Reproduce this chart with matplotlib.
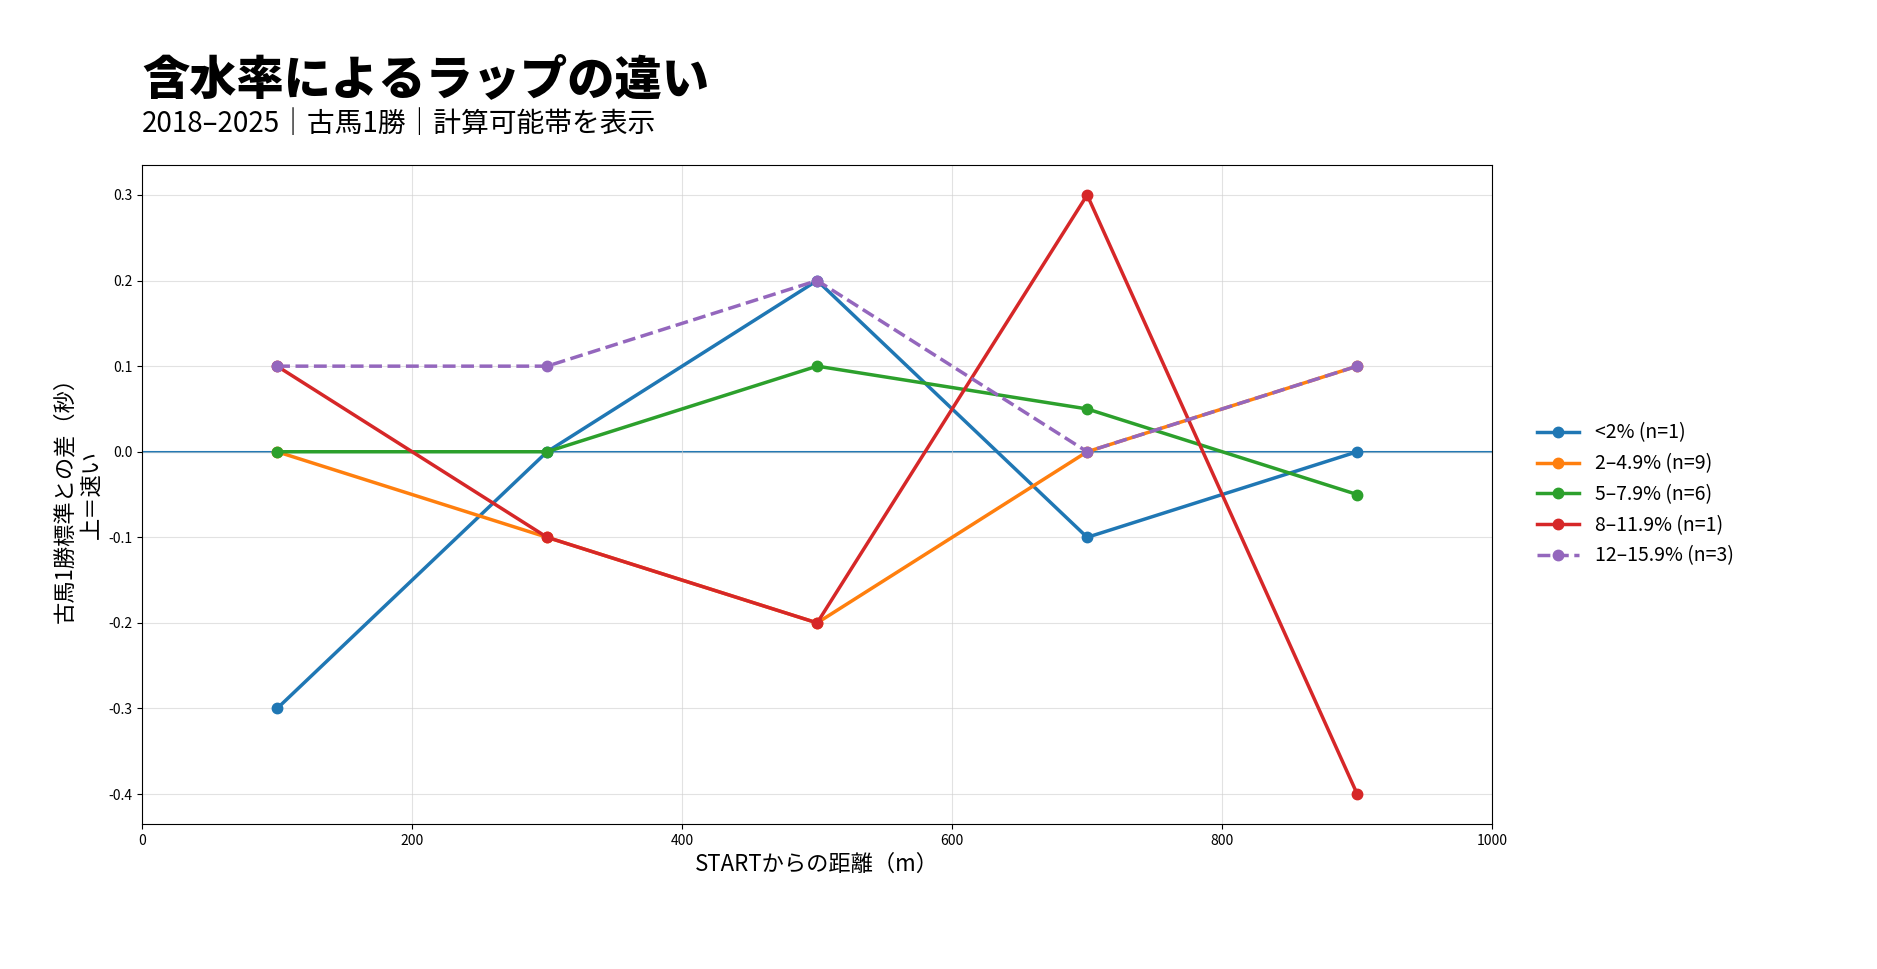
import matplotlib
matplotlib.use("Agg")
import matplotlib.pyplot as plt

plt.rcParams['font.family'] = ['Noto Sans CJK JP', 'DejaVu Sans']
plt.rcParams['axes.unicode_minus'] = False

# データ
distance = [100, 300, 500, 700, 900]
labels = ["<2% (n=1)", "2–4.9% (n=9)", "5–7.9% (n=6)", "8–11.9% (n=1)", "12–15.9% (n=3)"]
diff_lt2 = [-0.3, 0.0, 0.2, -0.1, 0.0]
diff_2_49 = [0.0, -0.1, -0.2, 0.0, 0.1]
diff_5_79 = [0.0, 0.0, 0.1, 0.05, -0.05]
diff_8_119 = [0.1, -0.1, -0.2, 0.3, -0.4]
diff_12_159 = [0.1, 0.1, 0.2, 0.0, 0.1]

series = [diff_lt2, diff_2_49, diff_5_79, diff_8_119, diff_12_159]
couleurs = ["#1f77b4", "#ff7f0e", "#2ca02c", "#d62728", "#9467bd"]
styles = ["-", "-", "-", "-", "--"]

fig = plt.figure(figsize=(18.77, 9.69), dpi=100)
ax = fig.add_axes([0.0757, 0.1496, 0.7193, 0.6801])

ax.axhline(0, color="#1f77b4", linewidth=1.5, zorder=1)

for vals, lab, c, ls in zip(series, labels, couleurs, styles):
    ax.plot(distance, vals, linestyle=ls, color=c, linewidth=2.5,
            marker="o", markersize=7.5, label=lab, zorder=3)

ax.set_xlim(0, 1000)
ax.grid(True, color="#d0d0d0", alpha=0.6, linewidth=0.8)
ax.tick_params(labelsize=10)

ax.set_xlabel("STARTからの距離（m）", fontsize=16)
ax.set_ylabel("古馬1勝標準との差（秒）\n上＝速い", fontsize=16)

ax.legend(loc="center left", bbox_to_anchor=(1.02, 0.5), frameon=False,
          fontsize=14, handlelength=2.2)

# titre et sous-titre
fig.text(0.0757, 0.918, "含水率によるラップの違い", fontsize=34,
         fontweight="heavy", ha="left", va="center")
fig.text(0.0757, 0.872, "2018–2025｜古馬1勝｜計算可能帯を表示", fontsize=20,
         ha="left", va="center")

fig.savefig("out.png", dpi=100)
